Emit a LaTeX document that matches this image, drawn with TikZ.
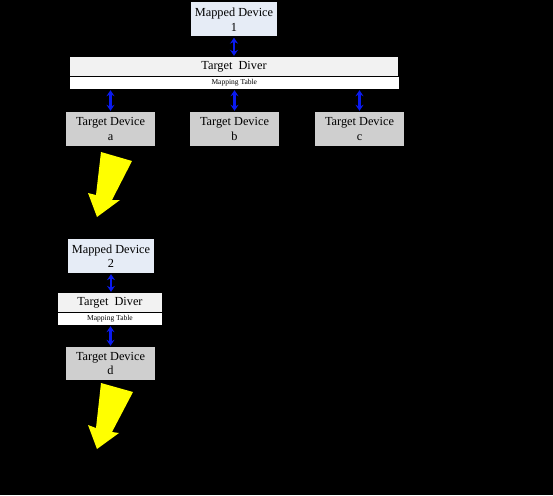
\documentclass[tikz,border=0pt]{standalone}
\usepackage{fontspec}
\setmainfont{Liberation Serif}
\usetikzlibrary{arrows.meta}
\definecolor{mappedblue}{HTML}{E6ECF6}
\definecolor{targetgray}{HTML}{CFCFCF}
\definecolor{diverbar}{HTML}{F2F2F2}
\definecolor{linkblue}{HTML}{0A1AF0}
\definecolor{bigyellow}{HTML}{FFFF00}
\begin{document}
\begin{tikzpicture}[x=1pt,y=-1pt,
  box/.style={draw=none, inner sep=0pt, align=center, text=black,
    font=\fontsize{12.3}{14.5}\selectfont},
  mapped/.style={box, fill=mappedblue, minimum width=86pt, minimum height=34pt},
  target/.style={box, fill=targetgray, minimum width=89pt, minimum height=34pt},
  diver/.style={box, fill=diverbar, minimum height=19pt},
  mtable/.style={box, fill=white, minimum height=12pt, font=\fontsize{7.5}{8}\selectfont},
  link/.style={linkblue, line width=2.5pt,
    {Stealth[length=6pt,width=8pt]}-{Stealth[length=6pt,width=8pt]}, shorten <=1pt, shorten >=1pt},
  bigarrow/.style={fill=bigyellow, draw=none}
]
\fill[black] (0,0) rectangle (553,495);
\useasboundingbox (0,0) rectangle (553,495);

% upper group
\node[mapped] (m1) at (234,19.5) {Mapped Device\\1};
\node[diver, minimum width=328pt] (d1) at (234,66.5) {Target\ \ Diver};
\node[mtable, minimum width=329pt] (t1) at (234.3,83) {Mapping Table};
\node[target] (ta) at (110.5,129) {Target Device\\a};
\node[target] (tb) at (234.5,129) {Target Device\\b};
\node[target] (tc) at (359.5,129) {Target Device\\c};

\draw[link] (m1.south) -- (m1.south |- d1.north);
\draw[link] (t1.south -| ta.north) -- (ta.north);
\draw[link] (t1.south -| tb.north) -- (tb.north);
\draw[link] (t1.south -| tc.north) -- (tc.north);

% lower group
\node[mapped] (m2) at (111,256) {Mapped Device\\2};
\node[diver, minimum width=104pt] (d2) at (110,302.5) {Target\ \ Diver};
\node[mtable, minimum width=104pt] (t2) at (110,319) {Mapping Table};
\node[target, minimum height=33pt] (td) at (110.5,363.5) {Target Device\\d};

\draw[link] (m2.south) -- (m2.south |- d2.north);
\draw[link] (t2.south -| td.north) -- (td.north);

% yellow block arrows
\fill[bigarrow] (101,152) -- (132,161) -- (112,200) -- (120,200) -- (97,217)
  -- (88,193) -- (96,195) -- cycle;
\fill[bigarrow] (101,383) -- (133,392) -- (112,432) -- (119,433) -- (97,449)
  -- (88,425) -- (96,428) -- cycle;
\end{tikzpicture}
\end{document}
